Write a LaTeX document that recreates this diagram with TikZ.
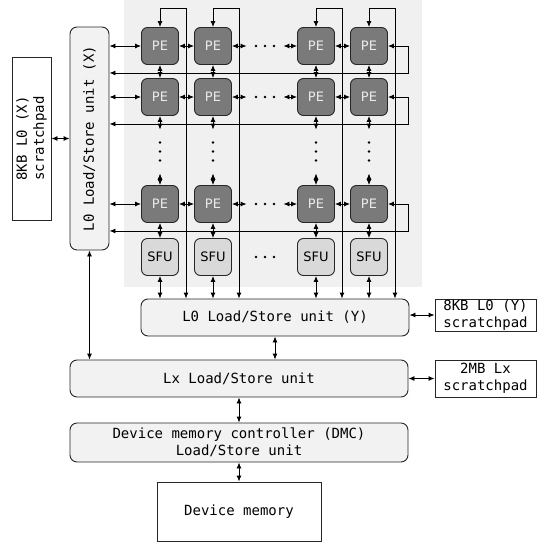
\documentclass[tikz,border=0pt]{standalone}
\usepackage{fontspec}
\setsansfont{DejaVu Sans}
\setmonofont{DejaVu Sans Mono}
\usepackage{tikz}
\usetikzlibrary{arrows.meta}
\definecolor{gridbg}{HTML}{F0F0F0}
\definecolor{pefill}{HTML}{7A7A7A}
\definecolor{sfufill}{HTML}{D9D9D9}
\definecolor{unitfill}{HTML}{F2F2F2}
\tikzset{
  arch/.style={x=1pt, y=-1pt, >={Latex[length=6pt,width=5pt]}, line width=0.9pt},
  pe/.style={
    draw=black!85, fill=pefill, rounded corners=6pt, minimum size=37pt,
    inner sep=0pt, text=white!92!black, font=\sffamily\fontsize{13}{15}\selectfont
  },
  sfu/.style={pe, fill=sfufill, text=black},
  unit/.style={
    draw=black!85, fill=unitfill, rounded corners=7pt, inner sep=0pt,
    font=\ttfamily\fontsize{14}{17}\selectfont, align=center
  },
  pad/.style={unit, fill=white, rounded corners=0pt},
  gap/.style={inner sep=0pt, minimum size=0pt},
}

\begin{document}
\begin{tikzpicture}[arch]
  \useasboundingbox (0,0) rectangle (555,544);
  \fill[gridbg] (124,0) rectangle (422,287);

  % PE array and SFUs
  \foreach \c/\x in {1/160, 2/213, 3/316, 4/369} {
    \foreach \r/\y in {1/46, 2/97, 3/204}
      \node[pe] (pe-\r-\c) at (\x,\y) {PE};
    \node[sfu] (sfu-\c) at (\x,257) {SFU};
    \node[gap, minimum height=43pt] (vd-\c) at (\x,151.5) {};
  }
  \foreach \r/\y in {1/46, 2/97, 3/204}
    \node[gap, minimum width=36pt] (hd-\r) at (265,\y) {};
  \node[gap, minimum width=36pt] (hd-4) at (265,257) {};

  % units and scratchpads
  \node[unit, rotate=90, minimum width=223pt, minimum height=39pt] (l0x) at (89.5,138.5) {L0 Load/Store unit (X)};
  \node[pad, rotate=90, minimum width=163pt, minimum height=39pt] (padx) at (31.5,138.5) {8KB L0 (X)\\scratchpad};
  \node[unit, minimum width=268pt, minimum height=37pt] (l0y) at (275,317.5) {L0 Load/Store unit (Y)};
  \node[pad, minimum width=101pt, minimum height=32pt] (pady) at (485.5,315) {8KB L0 (Y)\\scratchpad};
  \node[unit, minimum width=338pt, minimum height=37pt] (lx) at (239,378.5) {Lx Load/Store unit};
  \node[pad, minimum width=101pt, minimum height=37pt] (padlx) at (485.5,378.5) {2MB Lx\\scratchpad};
  \node[unit, minimum width=338pt, minimum height=39pt] (dmc) at (239,442.5) {Device memory controller (DMC)\\Load/Store unit};
  \node[pad, minimum width=164pt, minimum height=59pt] (mem) at (239,511.5) {Device memory};

  % dots
  \foreach \d in {-9,0,9} {
    \foreach \c in {1,2,3,4}
      \fill ([yshift=\d pt]vd-\c.center) circle (1.3pt);
    \foreach \r in {1,2,3,4}
      \fill ([xshift=\d pt]hd-\r.center) circle (1.3pt);
  }

  % rows
  \foreach \r in {1,2,3} {
    \draw[<->] (pe-\r-1.west -| l0x.south) -- (pe-\r-1.west);
    \draw[<->] (pe-\r-1.east) -- (pe-\r-2.west);
    \draw[<->] (pe-\r-2.east) -- (hd-\r.west);
    \draw[<->] (hd-\r.east) -- (pe-\r-3.west);
    \draw[<->] (pe-\r-3.east) -- (pe-\r-4.west);
    \draw[<->] (pe-\r-4.east) -- ++(20,0) |- ([yshift=-8pt]pe-\r-1.south -| l0x.south);
  }

  % columns
  \foreach \c in {1,2,3,4} {
    \draw[<->] (pe-1-\c.north) |- ++(26,-19) coordinate (fb-\c) -- (fb-\c |- l0y.north);
    \draw[<->] (pe-1-\c.south) -- (pe-2-\c.north);
    \draw[<->] (pe-2-\c.south) -- (vd-\c.north);
    \draw[<->] (vd-\c.south) -- (pe-3-\c.north);
    \draw[<->] (pe-3-\c.south) -- (sfu-\c.north);
    \draw[<->] (sfu-\c.south) -- (sfu-\c.south |- l0y.north);
  }

  % memory hierarchy
  \draw[<->] (padx.south) -- (l0x.north);
  \draw[<->] (l0x.west) -- (l0x.west |- lx.north);
  \draw[<->] (l0y.east |- pady.west) -- (pady.west);
  \draw[<->] (l0y.south) -- (l0y.south |- lx.north);
  \draw[<->] (lx.east) -- (padlx.west);
  \draw[<->] (lx.south) -- (dmc.north);
  \draw[<->] (dmc.south) -- (mem.north);
\end{tikzpicture}
\end{document}
